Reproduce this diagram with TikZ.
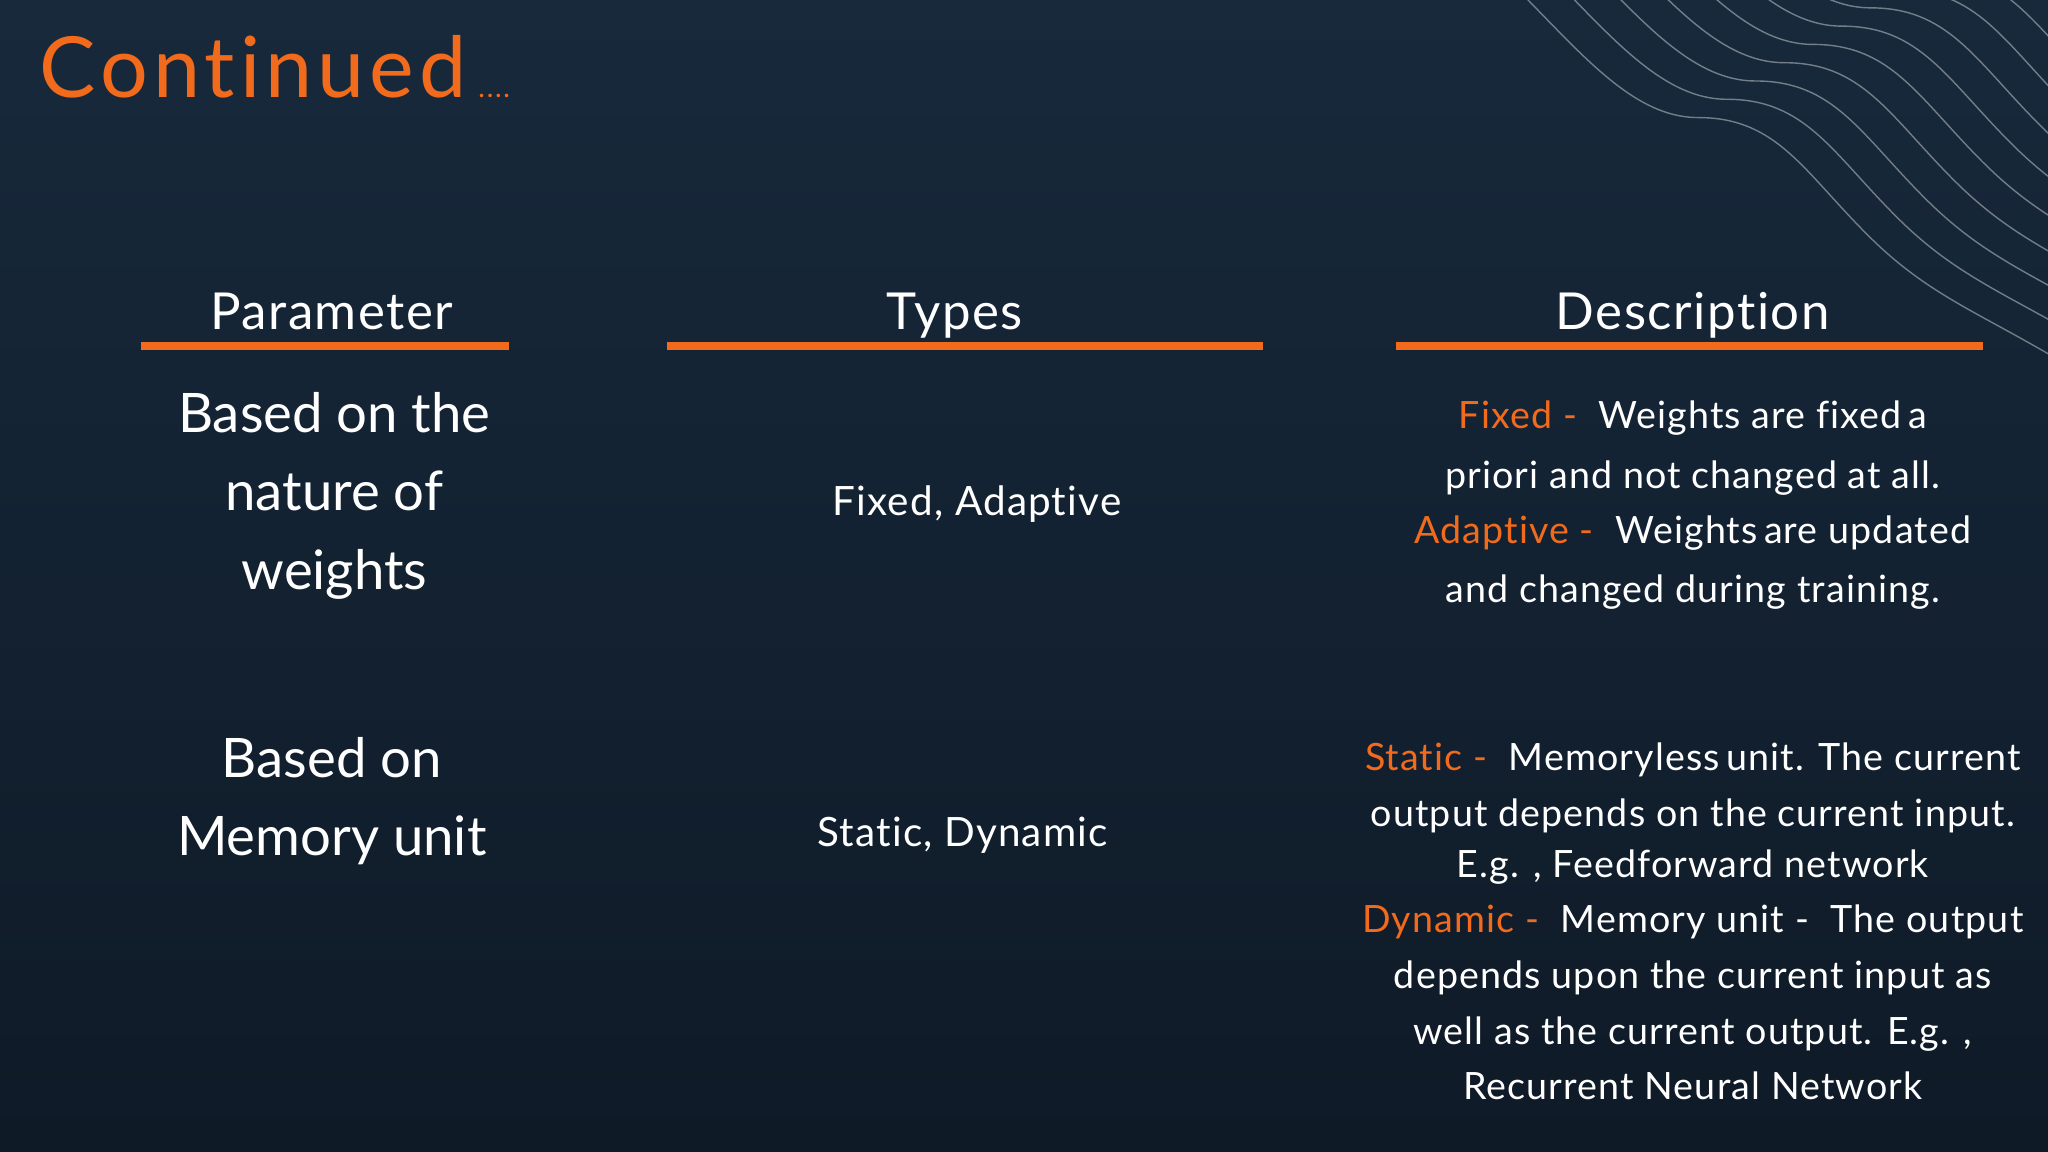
\documentclass[tikz,border=0pt]{standalone}
\usepackage{fontspec}
\setmainfont[Ligatures=NoCommon]{Lato}
\newfontfamily\titlefont[LetterSpace=6,Ligatures=NoCommon]{Lato}
\newfontfamily\dscfont[LetterSpace=3,Ligatures=NoCommon]{Lato}
\definecolor{bgtop}{HTML}{17293B}
\definecolor{bgbot}{HTML}{0F1A27}
\definecolor{accent}{HTML}{F26A1B}
\begin{document}
\begin{tikzpicture}[x=0.013061cm,y=-0.013061cm,
  hdr/.style={text=white,font=\dscfont\fontsize{14.5}{18}\selectfont,anchor=base},
  par/.style={text=white,font=\fontsize{15.5}{19}\selectfont,anchor=base},
  typ/.style={text=white,font=\dscfont\fontsize{11.5}{14}\selectfont,anchor=base},
  dsc/.style={text=white,font=\dscfont\fontsize{10.7}{14}\selectfont,anchor=base},
  rule/.style={accent,line width=6*0.013061cm}]
\shade[top color=bgtop,bottom color=bgbot] (0,0) rectangle (1568,882);
\useasboundingbox (0,0) rectangle (1568,882);
% wavy lines
\begin{scope}
\clip (0,0) rectangle (1568,882);
\foreach \i in {0,...,13}{
  \draw[white,opacity=0.4,line width=0.4pt,shift={(\i*22,-\i*14)}]
   (1160,-10) .. controls (1210,40) and (1250,90) .. (1300,90)
   .. controls (1360,90) and (1380,130) .. (1430,180)
   .. controls (1480,230) and (1520,240) .. (1600,290);
}
\end{scope}
\node[anchor=base west,text=accent,font=\titlefont\fontsize{24}{30}\selectfont,inner sep=0] (title) at (30,75) {Continued};
\node[anchor=base west,text=accent,font=\titlefont\fontsize{8}{10}\selectfont,inner sep=0] (dots) at ([xshift=3pt]title.base east) {....};
% headers
\node[hdr] (h1) at (254,252) {Parameter};
\node[hdr] (h2) at (731,252) {Types};
\node[hdr] (h3) at (1296,252) {Description};
\draw[rule] (108,265) -- (390,265);
\draw[rule] (511,265) -- (967,265);
\draw[rule] (1069,265) -- (1518,265);
% parameters
\node[par] (p1) at (256,331) {Based on the};
\node[par] (p2) at (256,391) {nature of};
\node[par] (p3) at (256,451) {weights};
\node[par] (p4) at (254,595) {Based on};
\node[par] (p5) at (254,655) {Memory unit};
% types
\node[typ] (t1) at (748,395) {Fixed, Adaptive};
\node[typ] (t2) at (737,648) {Static, Dynamic};
% descriptions
\node[dsc] (d1) at (1296,328) {\textcolor{accent}{Fixed -}\ \ Weights are fixed\,a};
\node[dsc] (d2) at (1296,374) {priori and not changed at all.};
\node[dsc] (d3) at (1296,416) {\textcolor{accent}{Adaptive -}\ \ Weights\,are updated};
\node[dsc] (d4) at (1296,461) {and changed during training.};
\node[dsc] (d5) at (1296,590) {\textcolor{accent}{Static -}\ \ Memoryless\,unit. The current};
\node[dsc] (d6) at (1296,633) {output depends on the current input.};
\node[dsc] (d7) at (1296,672) {E.g. , Feedforward network};
\node[dsc] (d8) at (1296,714) {\textcolor{accent}{Dynamic -}\ \ Memory unit -\ \ The output};
\node[dsc] (d9) at (1296,757) {depends upon the current input as};
\node[dsc] (d10) at (1296,800) {well as the current output. E.g. ,};
\node[dsc] (d11) at (1296,842) {Recurrent Neural Network};
\end{tikzpicture}
\end{document}
